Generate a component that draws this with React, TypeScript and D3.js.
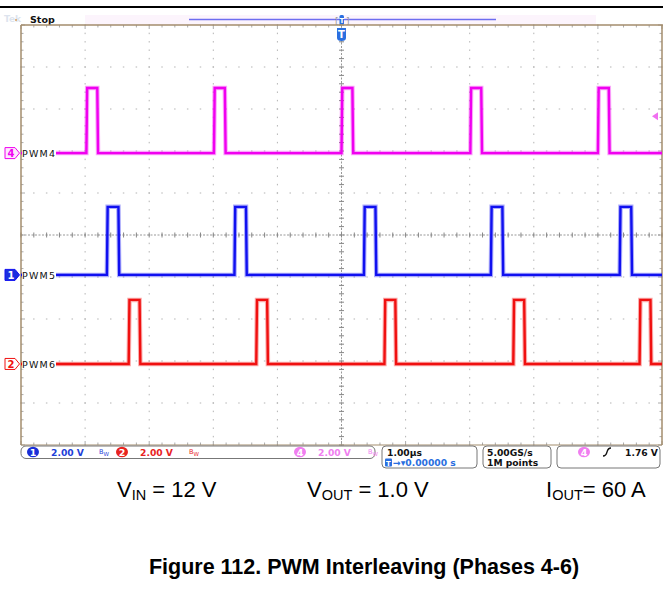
import React from "react";
import * as d3 from "d3";

// ---------- data ----------
const TIME_DOMAIN_US = [-5, 5]; // 1.00 µs/div, 10 divisions
const DIV_DOMAIN = [-5, 5]; // 10 vertical divisions
const VOLTS_PER_DIV = 2.0;

const CH_LABELS = ["PWM4", "PWM5", "PWM6"];
const CH_NUMBERS = ["4", "1", "2"];
const CH_OFFSET_DIV = [1.95, -0.95, -3.07];
const CH_HIGH_V = [3.1, 3.24, 3.05];
const CH_PULSE_WIDTH_US = [0.17, 0.18, 0.17];
const PWM4_RISE_US = [-3.98, -1.99, 0.0, 2.01, 4.0];
const PWM5_RISE_US = [-3.66, -1.67, 0.35, 2.33, 4.34];
const PWM6_RISE_US = [-3.32, -1.33, 0.67, 2.68, 4.65];
const CH_RISES = [PWM4_RISE_US, PWM5_RISE_US, PWM6_RISE_US];
const TRIGGER_LEVEL_V = 1.76;

const STATUS_SCALES = ["2.00 V", "2.00 V", "2.00 V"];
const TIMEBASE = "1.00µs";
const TRIG_POS = "0.00000 s";
const SAMPLE_RATE = "5.00GS/s";
const RECORD_LEN = "1M points";
const TRIG_TEXT = "1.76 V";

const COND_MAIN = ["V", "V", "I"];
const COND_SUB = ["IN", "OUT", "OUT"];
const COND_REST = [" = 12 V", " = 1.0 V", "= 60 A"];
const CAPTION = "Figure 112. PWM Interleaving (Phases 4-6)";

// ---------- style ----------
const COLORS = ["#f000f0", "#1010f0", "#f01010"];
const STATUS_COLORS = ["#1f3fd8", "#e8231f", "#f07ef0"];
const BORDER = "#a38d6d";
const GRID = "#b4b4b4";

const L = 21, R = 662, T = 25, B = 445;

export default function App() {
  const x = d3.scaleLinear().domain(TIME_DOMAIN_US).range([L, R]);
  const y = d3.scaleLinear().domain(DIV_DOMAIN).range([B, T]);
  const xMajor = d3.range(0, 11).map((i) => x(TIME_DOMAIN_US[0] + i));
  const yMajor = d3.range(0, 11).map((i) => y(DIV_DOMAIN[0] + i));
  const xMinor = d3.range(0, 51).map((i) => x(TIME_DOMAIN_US[0] + i / 5));
  const yMinor = d3.range(0, 51).map((i) => y(DIV_DOMAIN[0] + i / 5));
  const line = d3
    .line<[number, number]>()
    .x((d) => x(d[0]))
    .y((d) => d[1]);

  const traces = CH_RISES.map((rises, ci) => {
    const base = y(CH_OFFSET_DIV[ci]);
    const hi = y(CH_OFFSET_DIV[ci] + CH_HIGH_V[ci] / VOLTS_PER_DIV);
    const w = CH_PULSE_WIDTH_US[ci];
    const pts: [number, number][] = [[TIME_DOMAIN_US[0], base]];
    rises.forEach((r) => {
      pts.push([r, base], [r + 0.012, hi], [r + w, hi], [r + w + 0.012, base]);
    });
    pts.push([TIME_DOMAIN_US[1], base]);
    return { d: line(pts) as string, base };
  });

  const trigY = y(CH_OFFSET_DIV[0] + TRIGGER_LEVEL_V / VOLTS_PER_DIV);
  const cx = x(0);
  const cy = y(0);
  const statusFont = "'DejaVu Sans', sans-serif";

  const marker = (ci: number, yy: number) => {
    const col = COLORS[ci];
    const filled = ci === 1;
    const pts = `5,${yy - 5.5} 15,${yy - 5.5} 19.5,${yy} 15,${yy + 5.5} 5,${yy + 5.5}`;
    return (
      <g key={"m" + ci}>
        <polygon points={pts} fill={filled ? "#1a2fe0" : ci === 0 ? "#fde8fd" : "#fff"} stroke={col} strokeWidth={1} />
        <text x={11} y={yy + 3.6} fontSize={10} fontFamily={statusFont} fontWeight="bold" textAnchor="middle" fill={filled ? "#fff" : col}>
          {CH_NUMBERS[ci]}
        </text>
      </g>
    );
  };

  const bw = (xx: number, col: string) => (
    <text x={xx} y={454} fontSize={6.5} fontFamily={statusFont} fill={col}>
      B<tspan dy={2} fontSize={5.5}>W</tspan>
    </text>
  );

  const chip = (xx: number, fill: string, label: string) => (
    <g>
      <ellipse cx={xx} cy={452} rx={6} ry={5.2} fill={fill} />
      <text x={xx} y={455.5} fontSize={9.5} fontWeight="bold" fontFamily={statusFont} textAnchor="middle" fill="#fff">
        {label}
      </text>
    </g>
  );

  const condX = [117, 307, 546];
  const sFont = 9.2;

  return (
    <svg width={663} height={592} style={{ display: "block", position: "absolute", left: 0, top: 0 }}>
      <rect width={663} height={592} fill="#fff" />
      {/* top black rule */}
      <line x1={0} x2={663} y1={7} y2={7} stroke="#000" strokeWidth={2} />

      {/* top bar */}
      <text x={4} y={22} fontSize={9} fontFamily={statusFont} fill="#dde4ee" fontWeight="bold">Tek</text>
      <circle cx={16} cy={20} r={1} fill="#d9a060" />
      <text x={30} y={22.5} fontSize={9.5} fontFamily={statusFont} fontWeight="bold" fill="#111">Stop</text>
      <rect x={85} y={15} width={511} height={10} fill="#fcf4fc" />
      <line x1={189} x2={496} y1={19.5} y2={19.5} stroke="#6d6df0" strokeWidth={1.5} />
      <text x={335} y={24} fontSize={9} fontFamily={statusFont} fill="#999">[</text>
      <text x={346} y={24} fontSize={9} fontFamily={statusFont} fill="#999">]</text>
      <rect x={339.5} y={15} width={4.5} height={10} rx={1.5} fill="#2a6fe0" />
      <text x={341.8} y={23} fontSize={7} fontFamily={statusFont} fontWeight="bold" textAnchor="middle" fill="#fff">T</text>

      {/* grid dots */}
      {xMajor.slice(1, -1).map((gx, i) =>
        yMinor.map((gy, j) => <rect key={`vx${i}-${j}`} x={gx - 0.5} y={gy - 0.75} width={1} height={1.5} fill={GRID} />)
      )}
      {yMajor.slice(1, -1).map((gy, i) =>
        xMinor.map((gx, j) => <rect key={`hy${i}-${j}`} x={gx - 0.75} y={gy - 0.5} width={1.5} height={1} fill={GRID} />)
      )}
      {/* border ticks */}
      {xMinor.map((gx, j) => (
        <g key={`bt${j}`}>
          <line x1={gx} x2={gx} y1={T} y2={T + (j % 5 === 0 ? 4 : 2.5)} stroke="#aaa" strokeWidth={1} />
          <line x1={gx} x2={gx} y1={B} y2={B - (j % 5 === 0 ? 4 : 2.5)} stroke="#aaa" strokeWidth={1} />
        </g>
      ))}
      {yMinor.map((gy, j) => (
        <g key={`bl${j}`}>
          <line x1={L} x2={L + (j % 5 === 0 ? 4 : 2.5)} y1={gy} y2={gy} stroke="#aaa" strokeWidth={1} />
          <line x1={R} x2={R - (j % 5 === 0 ? 4 : 2.5)} y1={gy} y2={gy} stroke="#aaa" strokeWidth={1} />
        </g>
      ))}
      {/* center crosshair */}
      <line x1={L} x2={R} y1={cy} y2={cy} stroke="#999" strokeWidth={1} strokeDasharray="2,1.5" />
      <line x1={cx} x2={cx} y1={T} y2={B} stroke="#999" strokeWidth={1} strokeDasharray="2,1.5" />
      {xMinor.map((gx, j) => (
        <line key={`cxt${j}`} x1={gx} x2={gx} y1={cy - 2.5} y2={cy + 2.5} stroke="#888" strokeWidth={1} />
      ))}
      {yMinor.map((gy, j) => (
        <line key={`cyt${j}`} x1={cx - 2.5} x2={cx + 2.5} y1={gy} y2={gy} stroke="#888" strokeWidth={1} />
      ))}

      {/* border */}
      <line x1={L} x2={R + 1} y1={T} y2={T} stroke={BORDER} strokeWidth={1.5} />
      <line x1={L} x2={L} y1={T} y2={B} stroke={BORDER} strokeWidth={1.5} />
      <line x1={R} x2={R} y1={T} y2={B} stroke={BORDER} strokeWidth={1.5} />
      <line x1={L} x2={R} y1={B} y2={B} stroke={BORDER} strokeWidth={1} />

      {/* trigger T marker */}
      <path d={`M${cx - 4.5},${T + 3} h9 v10 q0,3 -4.5,3 q-4.5,0 -4.5,-3 z`} fill="#2a6fe0" />
      <text x={cx} y={T + 13} fontSize={10} fontFamily={statusFont} fontWeight="bold" textAnchor="middle" fill="#fff">T</text>

      {/* traces */}
      {traces.map((t, ci) => (
        <g key={"tr" + ci}>
          <path d={t.d} fill="none" stroke={COLORS[ci]} strokeOpacity={0.35} strokeWidth={4.5} />
          <path d={t.d} fill="none" stroke={COLORS[ci]} strokeWidth={2.4} />
        </g>
      ))}

      {/* labels */}
      {traces.map((t, ci) => (
        <g key={"lb" + ci}>
          <rect x={L + 1} y={t.base - 5.5} width={34} height={11} fill="#fff" />
          <text x={L + 1} y={t.base + 4} fontSize={9.5} fontFamily={statusFont} letterSpacing={1.2} fill="#111">
            {CH_LABELS[ci]}
          </text>
          {marker(ci, t.base)}
        </g>
      ))}

      {/* trigger level arrow */}
      <polygon points={`${R - 10},${trigY} ${R - 4},${trigY - 4} ${R - 4},${trigY + 4}`} fill="#f070f0" />

      {/* status bar */}
      <rect x={21} y={446} width={354} height={12.5} rx={5} fill="#fff" stroke="#777" strokeWidth={1} />
      {chip(33, "#1a2fd8", "1")}
      <text x={51} y={455.5} fontSize={sFont} fontWeight="bold" fontFamily={statusFont} fill={STATUS_COLORS[0]}>{STATUS_SCALES[0]}</text>
      {bw(99, STATUS_COLORS[0])}
      {chip(122, "#e8231f", "2")}
      <text x={140} y={455.5} fontSize={sFont} fontWeight="bold" fontFamily={statusFont} fill={STATUS_COLORS[1]}>{STATUS_SCALES[1]}</text>
      {bw(189, STATUS_COLORS[1])}
      {chip(300, "#f07ef0", "4")}
      <text x={318} y={455.5} fontSize={sFont} fontWeight="bold" fontFamily={statusFont} fill={STATUS_COLORS[2]}>{STATUS_SCALES[2]}</text>
      {bw(368, STATUS_COLORS[2])}

      <rect x={382} y={446} width={95} height={22} rx={4} fill="#fff" stroke="#777" strokeWidth={1} />
      <text x={387} y={455.5} fontSize={sFont} fontWeight="bold" fontFamily={statusFont} fill="#111">{TIMEBASE}</text>
      <rect x={385} y={458.5} width={7} height={8} rx={1} fill="#2a6fe0" />
      <text x={388.5} y={465.5} fontSize={7} fontFamily={statusFont} fontWeight="bold" textAnchor="middle" fill="#fff">T</text>
      <text x={393} y={466} fontSize={sFont} fontWeight="bold" fontFamily={statusFont} fill="#2a6fe0">→▾{TRIG_POS}</text>

      <rect x={483} y={446} width={68} height={22} rx={4} fill="#fff" stroke="#777" strokeWidth={1} />
      <text x={487} y={455.5} fontSize={sFont} fontWeight="bold" fontFamily={statusFont} fill="#111">{SAMPLE_RATE}</text>
      <text x={487} y={466} fontSize={sFont} fontWeight="bold" fontFamily={statusFont} fill="#111">{RECORD_LEN}</text>

      <rect x={557} y={446} width={103} height={22} rx={4} fill="#fff" stroke="#777" strokeWidth={1} />
      {chip(584, "#f07ef0", "4")}
      <path d="M603,456 q3,0 4,-4 q1,-4 4,-4" fill="none" stroke="#111" strokeWidth={1.3} />
      <text x={625} y={455.5} fontSize={sFont} fontWeight="bold" fontFamily={statusFont} fill="#111">{TRIG_TEXT}</text>

      {/* operating conditions */}
      {COND_MAIN.map((m, i) => (
        <text key={"c" + i} x={condX[i]} y={497} fontSize={22} fontFamily="'Liberation Sans', Arial, sans-serif" fill="#000">
          {m}
          <tspan dy={3} fontSize={14.5}>{COND_SUB[i]}</tspan>
          <tspan dy={-3}>{COND_REST[i]}</tspan>
        </text>
      ))}

      {/* caption */}
      <text x={364} y={574} fontSize={21.5} fontWeight="bold" textAnchor="middle" fontFamily="'Liberation Sans', Arial, sans-serif" fill="#000">
        {CAPTION}
      </text>
    </svg>
  );
}
